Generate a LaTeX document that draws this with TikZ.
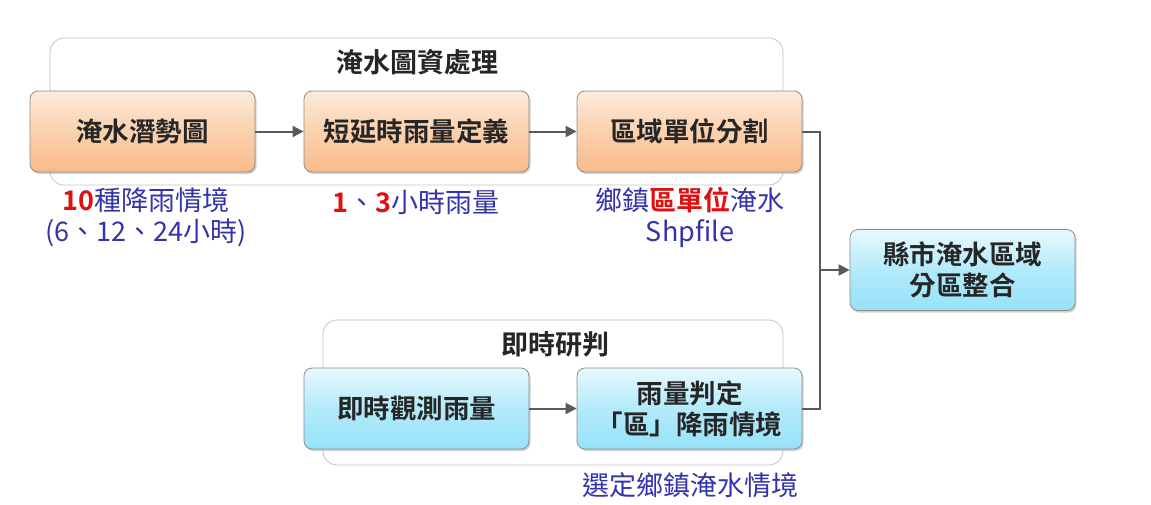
\documentclass[tikz,border=0pt]{standalone}
\usepackage{fontspec}
\setmainfont{Noto Sans CJK TC}[BoldFont={* Bold}]
\usetikzlibrary{arrows.meta,shadows}
\definecolor{orgtop}{HTML}{FDEBDC}
\definecolor{orgbot}{HTML}{F8BB88}
\definecolor{blutop}{HTML}{E8F9FE}
\definecolor{blubot}{HTML}{96E2F8}
\definecolor{bordergray}{HTML}{8C8C8C}
\definecolor{groupgray}{HTML}{C4C4C4}
\definecolor{arrowgray}{HTML}{5A5A5A}
\definecolor{labblue}{HTML}{3333AA}
\definecolor{labred}{HTML}{DD1111}
\begin{document}
\begin{tikzpicture}[x=1pt,y=-1pt,
  procbox/.style={draw=bordergray, line width=0.8pt, rounded corners=8pt,
    minimum width=225pt, minimum height=81pt, align=center,
    font=\fontsize{26.5}{31}\selectfont\bfseries, text=black!85,
    drop shadow={shadow xshift=1.5pt, shadow yshift=-2pt, fill=black!35, opacity=0.5}},
  orangebox/.style={procbox, top color=orgtop, bottom color=orgbot, middle color=orgbot!55!orgtop},
  bluebox/.style={procbox, top color=blutop, bottom color=blubot, middle color=blubot!65!blutop},
  groupbox/.style={draw=groupgray, line width=0.8pt, rounded corners=14pt, fill=white},
  grouplabel/.style={font=\fontsize{27}{31}\selectfont\bfseries, text=black!85},
  lab/.style={font=\fontsize{27}{31}\selectfont, text=labblue, align=center},
  flow/.style={draw=arrowgray, line width=2pt, -{Triangle[length=11pt,width=11pt]}},
  link/.style={draw=arrowgray, line width=2pt}
]
\useasboundingbox (0,0) rectangle (1151,504);
% group boxes
\draw[groupbox] (50,38) rectangle (783,185);
\node[grouplabel] (g1) at (417,62) {淹水圖資處理};
\draw[groupbox] (323,320) rectangle (783,465);
\node[grouplabel] (g2) at (555,344) {即時研判};
% process boxes
\node[orangebox] (A) at (142.5,131.5) {淹水潛勢圖};
\node[orangebox] (B) at (416.5,131.5) {短延時雨量定義};
\node[orangebox] (C) at (689.5,131.5) {區域單位分割};
\node[bluebox] (D) at (416.5,408.5) {即時觀測雨量};
\node[bluebox] (E) at (689.5,408.5) {雨量判定\\「區」降雨情境};
\node[bluebox] (F) at (962.5,270) {縣市淹水區域\\分區整合};
% labels
\node[lab] (LA) at (146,217) {\textcolor{labred}{\bfseries 10}種降雨情境\\(6、12、24小時)};
\node[lab] (LB) at (416,202) {\textcolor{labred}{\bfseries 1}、\textcolor{labred}{\bfseries 3}小時雨量};
\node[lab] (LC) at (690,217) {鄉鎮\textcolor{labred}{\bfseries 區單位}淹水\\Shpfile};
\node[lab] (LE) at (690,485) {選定鄉鎮淹水情境};
% connectors
\draw[flow] (A) -- (B);
\draw[flow] (B) -- (C);
\draw[flow] (D) -- (E);
\coordinate (J) at (820,270);
\draw[link] (C.east) -- (C.east -| J) -- (E.east -| J) -- (E.east);
\draw[flow] (J) -- (F.west);
\end{tikzpicture}
\end{document}
